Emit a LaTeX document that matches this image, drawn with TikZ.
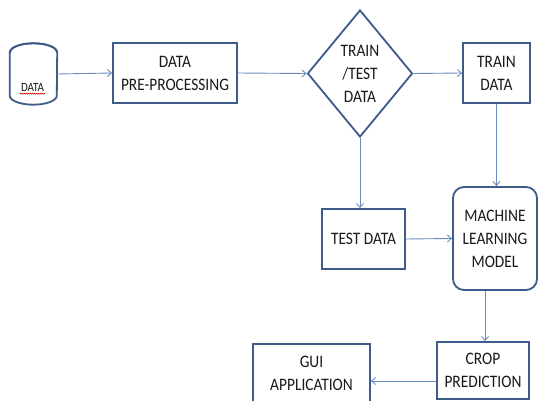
\documentclass[tikz,border=0pt]{standalone}
\usepackage{fontspec}
\setmainfont{Carlito}[FakeStretch=0.88]
\usetikzlibrary{shapes.geometric,arrows.meta,calc,decorations.pathmorphing}
\definecolor{bordc}{RGB}{62,92,138}
\definecolor{arrc}{RGB}{105,142,190}
\definecolor{txtc}{RGB}{25,25,25}
\begin{document}
\begin{tikzpicture}[x=1pt,y=-1pt,
  lbl/.style={font=\fontsize{17.5}{23}\selectfont,text=txtc,align=center},
  boxnode/.style={lbl,draw=bordc,line width=1.8pt,fill=white,inner sep=0pt},
  arr/.style={draw=arrc,line width=0.9pt,-{Straight Barb[length=4pt,width=7pt]}},
  plain/.style={draw=arrc,line width=0.9pt}]
\useasboundingbox (0,0) rectangle (541,401);
\clip (0,0) rectangle (541,401);
\fill[white] (0,0) rectangle (541,401);
% cylinder
\node[minimum width=47pt,minimum height=61pt,inner sep=0pt] (cyl) at (33.5,74) {};
\draw[bordc,line width=1.8pt,fill=white]
  ($(cyl.north west)+(0,9)$) -- ($(cyl.south west)-(0,9)$)
  arc[start angle=180,end angle=360,x radius=23.5pt,y radius=9pt]
  -- ($(cyl.north east)+(0,9)$)
  arc[start angle=0,end angle=180,x radius=23.5pt,y radius=9pt] -- cycle;
\draw[bordc,line width=1.8pt]
  ($(cyl.north west)+(0,9)$) arc[start angle=180,end angle=360,x radius=23.5pt,y radius=-9pt];
\node[font=\fontsize{12.5}{14}\selectfont,text=txtc,inner sep=0pt] (cyltxt) at (32.5,87) {DATA};
\draw[red!80!black,line width=0.5pt,decorate,decoration={zigzag,amplitude=0.6pt,segment length=2pt}]
  ($(cyltxt.south west)+(-1,2.5)$) -- ($(cyltxt.south east)+(1,2.5)$);
% boxes
\node[boxnode,minimum width=124pt,minimum height=60pt] (pre) at (175,73) {DATA\\PRE-PROCESSING};
\node[lbl,diamond,draw=bordc,line width=1.8pt,fill=white,inner sep=0pt,aspect=0.83,
  minimum width=105pt,minimum height=127pt] (dia) at (360,73.5) {TRAIN\\/TEST\\DATA};
\node[boxnode,minimum width=67pt,minimum height=60pt] (train) at (496.5,73) {TRAIN\\DATA};
\node[boxnode,minimum width=83pt,minimum height=60pt] (test) at (363.5,239) {TEST DATA};
\node[boxnode,rounded corners=11pt,minimum width=84pt,minimum height=103pt] (ml) at (495,238.5) {MACHINE\\LEARNING\\MODEL};
\node[boxnode,minimum width=92pt,minimum height=57pt] (crop) at (483,370.5) {CROP\\PREDICTION};
\node[boxnode,minimum width=117pt,minimum height=58pt] (gui) at (311.5,373) {GUI\\APPLICATION};
% connectors
\draw[arr] (cyl.east) -- (pre.west);
\draw[arr] (pre.east) -- (dia.west);
\draw[arr] (dia.east) -- (train.west);
\draw[arr] (dia.south) -- (dia.south |- test.north);
\draw[arr] (train.south) -- (train.south |- ml.north);
\draw[arr] (test.east) -- (ml.west);
\draw[arr] ([xshift=2pt]crop.north |- ml.south) -- ([xshift=2pt]crop.north);
\draw[arr] ([yshift=-10.5pt]crop.west) -- ([yshift=-10.5pt]crop.west -| gui.east);
\end{tikzpicture}
\end{document}
